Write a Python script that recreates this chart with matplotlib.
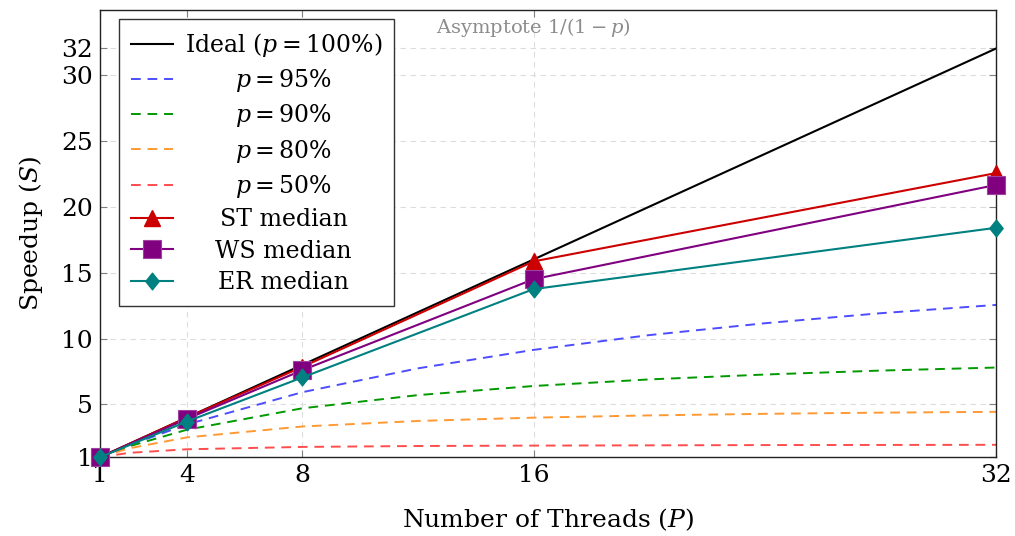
import numpy as np
import matplotlib
matplotlib.use("Agg")
import matplotlib.pyplot as plt
from matplotlib.path import Path

plt.rcParams['font.family'] = ['DejaVu Serif']
plt.rcParams['mathtext.fontset'] = 'dejavuserif'

# theoretical Amdahl curves
p_threads = [1, 2, 4, 8, 12, 16, 20, 24, 28, 32]
s_95 = [1.0, 1.90, 3.48, 5.93, 7.74, 9.14, 10.26, 11.16, 11.92, 12.55]
s_90 = [1.0, 1.82, 3.08, 4.71, 5.71, 6.40, 6.90, 7.27, 7.57, 7.80]
s_80 = [1.0, 1.67, 2.50, 3.33, 3.75, 4.00, 4.17, 4.29, 4.38, 4.44]
s_50 = [1.0, 1.33, 1.60, 1.78, 1.85, 1.88, 1.90, 1.92, 1.93, 1.94]

# measured medians
threads = [1, 4, 8, 16, 32]
ideal = [1, 4, 8, 16, 32]
st_median = [1.0, 4.0, 7.85, 15.85, 22.55]
ws_median = [1.0, 3.9, 7.6, 14.5, 21.65]
er_median = [1.0, 3.7, 7.05, 13.75, 18.4]

x_ticks = [1, 4, 8, 16, 32]
y_ticks = [1, 5, 10, 15, 20, 25, 30, 32]

# tall diamond like the pgfplots one
diamond = Path([(0, 1), (0.8, 0), (0, -1), (-0.8, 0), (0, 1)],
               [Path.MOVETO, Path.LINETO, Path.LINETO, Path.LINETO, Path.CLOSEPOLY])

fig = plt.figure(figsize=(10.15, 5.36), dpi=100)
ax = fig.add_axes([0.0985, 0.147, 0.883, 0.834])

dash = (5, 3.5)
ax.plot(threads, ideal, color='black', lw=1.5, label=r'Ideal ($p = 100\%$)')
ax.plot(p_threads, s_95, color='#4d4dff', lw=1.4, dashes=dash, label=r'$p = 95\%$')
ax.plot(p_threads, s_90, color='#009900', lw=1.4, dashes=dash, label=r'$p = 90\%$')
ax.plot(p_threads, s_80, color='#ff9933', lw=1.4, dashes=dash, label=r'$p = 80\%$')
ax.plot(p_threads, s_50, color='#ff4d4d', lw=1.4, dashes=dash, label=r'$p = 50\%$')

ax.plot(threads, st_median, color='#cc0000', lw=1.5, marker='^', ms=12,
        mec='#cc0000', label='ST median', clip_on=False, zorder=4)
ax.plot(threads, ws_median, color='#800080', lw=1.5, marker='s', ms=13,
        mec='#a040a0', mew=0.8, label='WS median', clip_on=False, zorder=5)
ax.plot(threads, er_median, color='#008080', lw=1.5, marker=diamond, ms=12,
        mec='#008080', label='ER median', clip_on=False, zorder=6)

ax.set_xlim(1, 32)
ax.set_ylim(1, 34.9)
ax.set_xticks(x_ticks)
ax.set_yticks(y_ticks)
ax.tick_params(direction='in', length=5, width=0.8, color='0.5', labelsize=18,
               top=True, right=True, pad=5)
ax.grid(True, color='#dddddd', lw=0.8, dashes=(5, 4))
ax.set_axisbelow(True)
for s in ax.spines.values():
    s.set_linewidth(1.0)
    s.set_color('#222222')

ax.set_xlabel(r'Number of Threads ($P$)', fontsize=18, labelpad=14)
ax.set_ylabel(r'Speedup ($S$)', fontsize=18, labelpad=12)

ax.text(16, 33.6, r'Asymptote $1/(1-p)$', color='0.55', fontsize=14,
        ha='center', va='center')

leg = ax.legend(loc='upper left', fontsize=17, frameon=True, fancybox=False,
                edgecolor='#333333', framealpha=1, borderaxespad=0,
                handlelength=1.8, labelspacing=0.35, borderpad=0.5,
                handletextpad=0.5, bbox_to_anchor=(0.021, 0.98))
leg.get_frame().set_linewidth(1.0)
leg.set_zorder(10)

# centre the legend labels in their column, as pgfplots does
fig.canvas.draw()
renderer = fig.canvas.get_renderer()
texts = leg.get_texts()
boxes = [t.get_window_extent(renderer) for t in texts]
left = min(b.x0 for b in boxes)
right = max(b.x1 for b in boxes)
xc = (left + right) / 2
inv = ax.transAxes.inverted()
for t, b in zip(texts, boxes):
    t.set_visible(False)
    xa, ya = inv.transform((xc, (b.y0 + b.y1) / 2))
    ax.text(xa, ya, t.get_text(), transform=ax.transAxes, fontsize=17,
            ha='center', va='center', zorder=11)

fig.savefig('out.png', dpi=100)
